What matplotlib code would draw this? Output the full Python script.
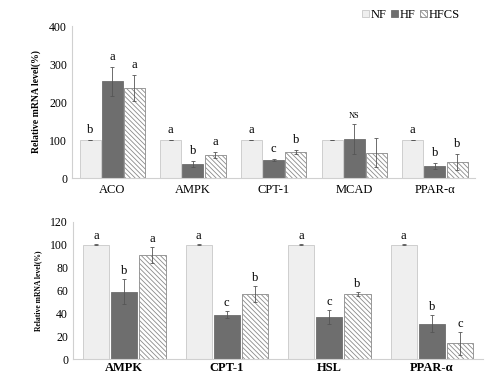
import numpy as np
import matplotlib
matplotlib.use("Agg")
import matplotlib.pyplot as plt
from matplotlib.patches import Patch

plt.rcParams["font.family"] = ["Liberation Serif", "DejaVu Serif"]
plt.rcParams["hatch.color"] = "#8a8a8a"
plt.rcParams["hatch.linewidth"] = 0.6

groups = ["NF", "HF", "HFCS"]

# top panel
top_genes = ["ACO", "AMPK", "CPT-1", "MCAD", "PPAR-\u03b1"]
top_nf = [100, 100, 100, 100, 100]
top_hf = [255, 37, 48, 103, 31]
top_hfcs = [237, 60, 69, 67, 42]
top_nf_err = [1, 1, 1, 1, 1]
top_hf_err = [38, 7, 2, 40, 8]
top_hfcs_err = [35, 8, 5, 38, 22]
top_letters = [["b", "a", "a"], ["a", "b", "a"], ["a", "c", "b"],
               ["", "NS", ""], ["a", "b", "b"]]

# bottom panel
bot_genes = ["AMPK", "CPT-1", "HSL", "PPAR-\u03b1"]
bot_nf = [100, 100, 100, 100]
bot_hf = [59, 39, 37, 31]
bot_hfcs = [91, 57, 57, 14]
bot_nf_err = [0.3, 0.3, 0.3, 0.3]
bot_hf_err = [11, 3, 6, 7.5]
bot_hfcs_err = [7, 7, 2, 10]
bot_letters = [["a", "b", "a"], ["a", "c", "b"], ["a", "c", "b"], ["a", "b", "c"]]

styles = [
    dict(color="#efefef", edgecolor="#c8c8c8", hatch=None),
    dict(color="#6e6e6e", edgecolor="#6e6e6e", hatch=None),
    dict(color="white", edgecolor="#8a8a8a", hatch="\\\\\\\\\\\\\\"),
]


def panel(ax, genes, series, errs, letters, width, step, ymax, ystep, pad, lab_pad):
    x = np.arange(len(genes))
    for i, (vals, err, st) in enumerate(zip(series, errs, styles)):
        xi = x + (i - 1) * step
        ax.bar(xi, vals, width, color=st["color"], edgecolor=st["edgecolor"],
               hatch=st["hatch"], linewidth=0.6, zorder=2)
        ax.errorbar(xi, vals, yerr=err, fmt="none", ecolor="#555555",
                    elinewidth=0.6, capsize=1.5, capthick=0.6, zorder=3)
        for j in range(len(genes)):
            t = letters[j][i]
            if t:
                fs = 6 if t == "NS" else 9
                ax.annotate(t, (xi[j], vals[j] + err[j]), xytext=(0, pad),
                            textcoords="offset points", ha="center", va="bottom",
                            fontsize=fs)
    ax.set_xlim(-0.5, len(genes) - 0.5)
    ax.set_ylim(0, ymax)
    ax.set_yticks(np.arange(0, ymax + 1, ystep))
    ax.set_xticks(x)
    ax.set_xticklabels(genes)
    ax.tick_params(axis="both", length=0, labelsize=8.5)
    ax.tick_params(axis="x", labelsize=9, pad=lab_pad)
    for s in ["top", "right"]:
        ax.spines[s].set_visible(False)
    ax.spines["left"].set_color("#d0d0d0")
    ax.spines["bottom"].set_color("#d0d0d0")


fig = plt.figure(figsize=(4.93, 3.78), dpi=100)
ax1 = fig.add_axes([0.146, 0.529, 0.818, 0.402])
ax2 = fig.add_axes([0.148, 0.050, 0.832, 0.363])

panel(ax1, top_genes, [top_nf, top_hf, top_hfcs], [top_nf_err, top_hf_err, top_hfcs_err],
      top_letters, 0.26, 0.275, 400, 100, 3, 4)
panel(ax2, bot_genes, [bot_nf, bot_hf, bot_hfcs], [bot_nf_err, bot_hf_err, bot_hfcs_err],
      bot_letters, 0.255, 0.275, 120, 20, 1.5, 2)
ax1.set_ylabel("Relative mRNA level(%)", fontsize=7, fontweight="bold", labelpad=6)
ax2.set_ylabel("Relative mRNA level(%)", fontsize=5.5, fontweight="bold", labelpad=6)
for lab in ax2.get_xticklabels():
    lab.set_fontweight("bold")

handles = [Patch(facecolor=st["color"], edgecolor=st["edgecolor"], hatch=st["hatch"],
                 linewidth=0.6) for st in styles]
fig.legend(handles, groups, loc="upper right", bbox_to_anchor=(0.955, 1.005), ncol=3,
           frameon=False, fontsize=9, handlelength=0.5, handleheight=0.5,
           handletextpad=0.15, columnspacing=0.4)

fig.savefig("out.png", dpi=100)
